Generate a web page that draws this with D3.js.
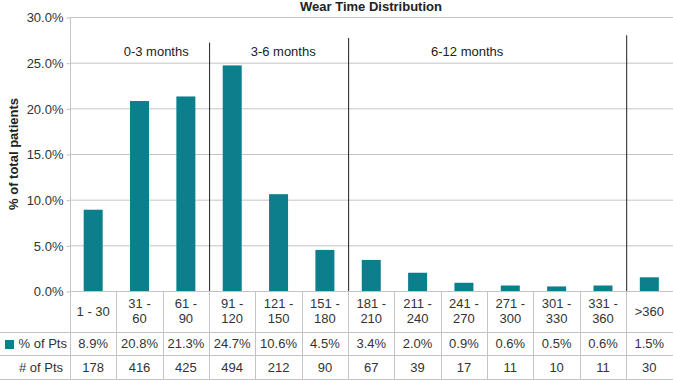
<!DOCTYPE html>
<html><head><meta charset="utf-8">
<script src="https://cdn.jsdelivr.net/npm/d3@7"></script>
<style>
html,body{margin:0;padding:0;background:#fff;}
svg{display:block;font-family:"Liberation Sans",Arial,Helvetica,sans-serif;}
</style></head>
<body><svg id="c" width="673" height="380"></svg>
<script>
const categories = ["1 - 30","31 - 60","61 - 90","91 - 120","121 - 150","151 - 180","181 - 210","211 - 240","241 - 270","271 - 300","301 - 330","331 - 360",">360"];
const pctPts = [8.9,20.8,21.3,24.7,10.6,4.5,3.4,2.0,0.9,0.6,0.5,0.6,1.5];
const numPts = [178,416,425,494,212,90,67,39,17,11,10,11,30];
const yTicks = [0,5,10,15,20,25,30];
const groupLabels = ["0-3 months","3-6 months","6-12 months"];
const dividerAfter = ["61 - 90","151 - 180","331 - 360"];
const dividerTop = [27.2,27.7,28.0];

const svg = d3.select("#c");
const L = 70, R = 672.5, T = 17, B = 291;
const x = d3.scaleBand().domain(categories).range([L, R]).padding(0);
const y = d3.scaleLinear().domain([0,30]).range([B, T]);
const bw = x.bandwidth();
const barW = bw * 0.41;
const grid = "#c4c4c4";
const teal = "#0b7f8b";
// label anchors in band units from the left edge of the plot
const groupLabelPos = [1.86, 4.6, 8.57];

// title
svg.append("text").attr("x", 371).attr("y", 11).attr("text-anchor","middle")
  .attr("font-size", 13).attr("font-weight","bold").attr("fill","#222").text("Wear Time Distribution");

// gridlines
svg.append("g").selectAll("line").data(yTicks).join("line")
  .attr("x1", L).attr("x2", 673).attr("y1", d=>y(d)+0.5).attr("y2", d=>y(d)+0.5)
  .attr("stroke", grid).attr("stroke-width",1);

// y axis
const yAxis = d3.axisLeft(y).tickValues(yTicks).tickFormat(d=>d.toFixed(1)+"%").tickSize(4).tickPadding(3);
const ga = svg.append("g").attr("transform",`translate(${L+0.5},0.5)`).call(yAxis);
ga.select(".domain").attr("stroke", grid).attr("d", `M0,${T}V${B}`);
ga.selectAll(".tick line").attr("stroke", grid);
ga.selectAll(".tick text").attr("font-size",13).attr("fill","#333").attr("font-family","Liberation Sans, Arial, sans-serif");

// y title
svg.append("text").attr("transform",`translate(18,${(T+B)/2}) rotate(-90)`).attr("text-anchor","middle")
  .attr("font-size",13).attr("font-weight","bold").attr("fill","#222").text("% of total patients");

// bars
svg.append("g").selectAll("rect").data(categories).join("rect")
  .attr("x", d=>x(d)+bw/2-barW/2).attr("width", barW)
  .attr("y", (d,i)=>y(pctPts[i])).attr("height",(d,i)=>B-y(pctPts[i]))
  .attr("fill", teal);

// dividers
svg.append("g").selectAll("line").data(dividerAfter).join("line")
  .attr("x1", d=>x(d)+bw+0.5).attr("x2", d=>x(d)+bw+0.5)
  .attr("y1",(d,i)=>y(dividerTop[i])).attr("y2", B)
  .attr("stroke","#333").attr("stroke-width",1.1);

// group labels
svg.append("g").selectAll("text").data(groupLabels).join("text")
  .attr("x",(d,i)=>L + groupLabelPos[i]*bw)
  .attr("y", 56).attr("text-anchor","middle").attr("font-size",13).attr("fill","#222").text(d=>d);

// table
const rowLines = [B, 332, 355, 379];
const tg = svg.append("g");
tg.selectAll("line.h").data(rowLines).join("line").attr("class","h")
  .attr("x1",(d,i)=> i===0 ? L : 0).attr("x2",673)
  .attr("y1",d=>d+0.5).attr("y2",d=>d+0.5).attr("stroke",grid);
const colEdges = categories.map(c=>x(c)).concat([R]);
tg.selectAll("line.v").data(colEdges).join("line").attr("class","v")
  .attr("x1",d=>Math.round(d)+0.5).attr("x2",d=>Math.round(d)+0.5)
  .attr("y1",B).attr("y2",380).attr("stroke",grid);

// category labels
const cl = tg.append("g").selectAll("text").data(categories).join("text")
  .attr("text-anchor","middle").attr("font-size",13).attr("fill","#333");
cl.each(function(d){
  const t = d3.select(this);
  const cx = x(d)+bw/2;
  const parts = d.includes(" - ") && d !== "1 - 30" ? [d.split(" - ")[0]+" -", d.split(" - ")[1]] : [d];
  if (parts.length===1) {
    t.append("tspan").attr("x",cx).attr("y",316).text(parts[0]);
  } else {
    t.append("tspan").attr("x",cx).attr("y",308).text(parts[0]);
    t.append("tspan").attr("x",cx).attr("y",323).text(parts[1]);
  }
});

// values rows
tg.append("g").selectAll("text").data(pctPts).join("text")
  .attr("x",(d,i)=>x(categories[i])+bw/2).attr("y",348).attr("text-anchor","middle")
  .attr("font-size",13).attr("fill","#333").text(d=>d.toFixed(1)+"%");
tg.append("g").selectAll("text").data(numPts).join("text")
  .attr("x",(d,i)=>x(categories[i])+bw/2).attr("y",372).attr("text-anchor","middle")
  .attr("font-size",13).attr("fill","#333").text(d=>d);

// row headers
tg.append("rect").attr("x",5).attr("y",340).attr("width",9).attr("height",9).attr("fill",teal);
tg.append("text").attr("x",67).attr("y",348).attr("text-anchor","end").attr("font-size",13).attr("fill","#333").text("% of Pts");
tg.append("text").attr("x",63).attr("y",372).attr("text-anchor","end").attr("font-size",13).attr("fill","#333").text("# of Pts");
</script></body></html>
